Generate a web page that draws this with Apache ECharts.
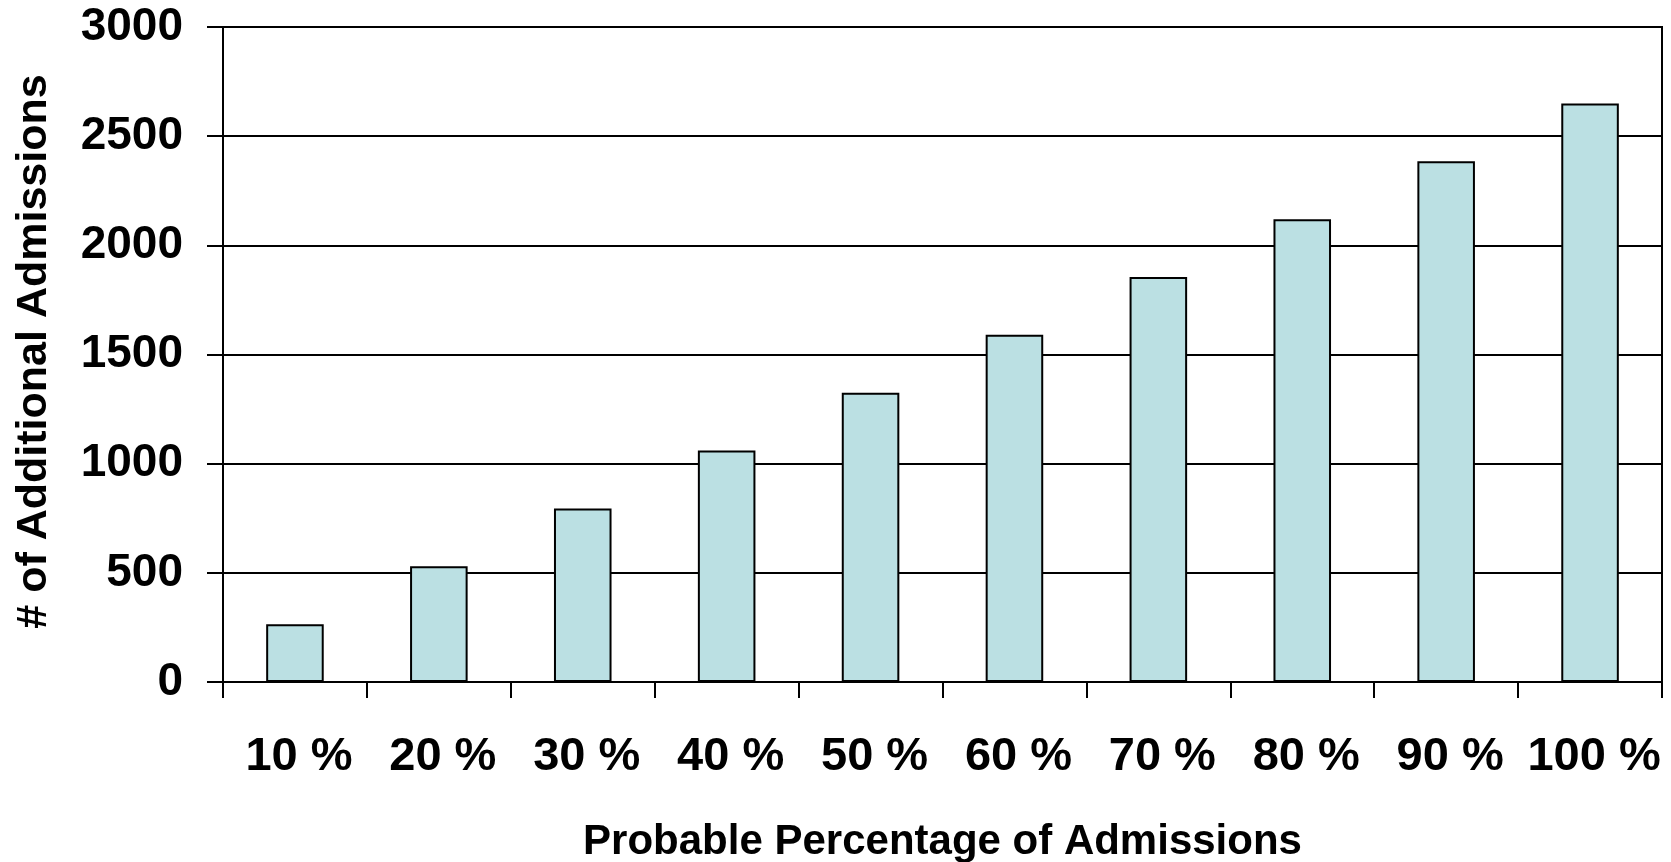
<!DOCTYPE html>
<html>
<head>
<meta charset="utf-8">
<script src="https://cdn.jsdelivr.net/npm/echarts@6/dist/echarts.min.js"></script>
<style>
  html, body { margin: 0; padding: 0; background: #ffffff; }
  #chart { width: 1671px; height: 862px; }
</style>
</head>
<body>
<div id="chart"></div>
<script>
// Probable admission percentages and the additional admissions at each level
const categories = ['10 %', '20 %', '30 %', '40 %', '50 %', '60 %', '70 %', '80 %', '90 %', '100 %'];
const admissions = [265, 530, 795, 1060, 1325, 1590, 1855, 2120, 2385, 2650];
const yTicks = { min: 0, max: 3000, interval: 500 };

const FONT = '"Liberation Sans", Arial, Helvetica, sans-serif';

const chart = echarts.init(document.getElementById('chart'), null, { renderer: 'canvas' });

chart.setOption({
  animation: false,
  backgroundColor: '#ffffff',
  grid: {
    left: 223, right: 9, top: 27, bottom: 180,
    containLabel: false,
    outerBoundsMode: 'none',
    show: true,
    borderColor: '#000000',
    borderWidth: 2
  },
  xAxis: {
    type: 'category',
    data: categories,
    boundaryGap: true,
    name: 'Probable Percentage of Admissions',
    nameLocation: 'middle',
    nameGap: 139,
    nameTextStyle: { fontFamily: FONT, fontWeight: 'bold', fontSize: 42, color: '#000000' },
    axisLine: { show: true, lineStyle: { color: '#000000', width: 2 } },
    axisTick: { show: true, alignWithLabel: false, length: 16, lineStyle: { color: '#000000', width: 2 } },
    axisLabel: {
      fontFamily: FONT, fontWeight: 'bold', fontSize: 47, color: '#000000',
      margin: 52, interval: 0, padding: [0, 0, 0, 8]
    },
    splitLine: { show: false }
  },
  yAxis: {
    type: 'value',
    min: yTicks.min,
    max: yTicks.max,
    interval: yTicks.interval,
    name: '# of Additional Admissions',
    nameLocation: 'middle',
    nameRotate: 90,
    nameGap: 167,
    nameTextStyle: {
      fontFamily: FONT, fontWeight: 'bold', fontSize: 43, color: '#000000',
      padding: [0, 0, 0, 6]
    },
    axisLine: { show: true, lineStyle: { color: '#000000', width: 2 } },
    axisTick: { show: true, length: 16, lineStyle: { color: '#000000', width: 2 } },
    axisLabel: {
      fontFamily: FONT, fontWeight: 'bold', fontSize: 46, color: '#000000', margin: 40,
      formatter: (v) => String(v)
    },
    splitLine: { show: true, lineStyle: { color: '#000000', width: 2 } }
  },
  series: [{
    type: 'bar',
    data: admissions,
    barWidth: '40%',
    itemStyle: { color: '#bbe0e3', borderColor: '#000000', borderWidth: 2 }
  }]
});
</script>
</body>
</html>
